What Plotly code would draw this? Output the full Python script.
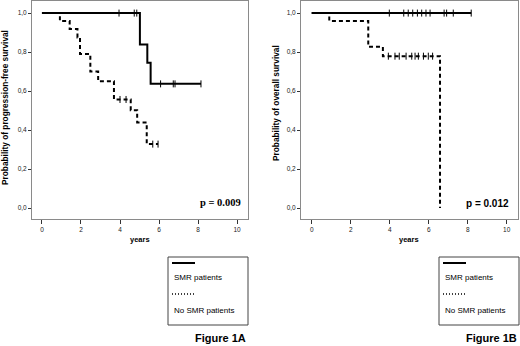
import plotly.graph_objects as go

# ---------------- data ----------------
# Figure 1A : progression-free survival
pfs_smr_times = [0, 5.02, 5.40, 5.57]
pfs_smr_surv = [1.0, 0.839, 0.745, 0.637]
pfs_smr_end = 8.15
pfs_smr_censor = [3.95, 4.73, 4.86, 6.08, 6.73, 6.82, 8.15]

pfs_no_times = [0, 0.92, 1.42, 1.82, 1.95, 2.48, 2.88, 3.69, 4.55, 4.88, 5.37]
pfs_no_surv = [1.0, 0.96, 0.918, 0.875, 0.79, 0.70, 0.651, 0.557, 0.502, 0.439, 0.328]
pfs_no_end = 5.95
pfs_no_censor = [4.0, 4.31, 5.68, 5.95]

# Figure 1B : overall survival
os_smr_times = [0]
os_smr_surv = [1.0]
os_smr_end = 8.18
os_smr_censor = [3.98, 4.72, 4.95, 5.18, 5.42, 5.64, 5.86, 6.07, 6.79, 6.92, 7.26, 8.18]

os_no_times = [0, 0.90, 2.90, 3.65, 6.58]
os_no_surv = [1.0, 0.96, 0.827, 0.779, 0.0]
os_no_end = 6.58
os_no_censor = [3.93, 4.27, 4.49, 4.84, 5.13, 5.30, 5.47, 5.73, 5.98, 6.20]

x_ticks = [0, 2, 4, 6, 8, 10]
x_ticklabels = ["0", "2", "4", "6", "8", "10"]
y_ticks = [0.0, 0.2, 0.4, 0.6, 0.8, 1.0]
y_ticklabels = ["0,0", "0,2", "0,4", "0,6", "0,8", "1,0"]

p_values = ["p = 0.009", "p = 0.012"]
y_titles = ["Probability of progression-free survival", "Probability of overall survival"]
legend_labels = ["SMR patients", "No SMR patients"]
figure_labels = ["Figure 1A", "Figure 1B"]

W, H = 520, 346
SANS = "Liberation Sans, Arial, sans-serif"
SERIF = "Liberation Serif, Times New Roman, serif"


def surv_at(times, surv, t):
    val = surv[0]
    for ti, si in zip(times, surv):
        if t >= ti:
            val = si
    return val


fig = go.Figure()


def add_curve(times, surv, end, censor, dash, xa, ya):
    xs = list(times) + [end]
    ys = list(surv) + [surv[-1]]
    fig.add_trace(go.Scatter(x=xs, y=ys, mode="lines", line_shape="hv",
                             line=dict(color="black", width=2, dash=dash),
                             xaxis=xa, yaxis=ya, showlegend=False, hoverinfo="skip"))
    cy = [surv_at(times, surv, t) for t in censor]
    fig.add_trace(go.Scatter(x=censor, y=cy, mode="markers",
                             marker=dict(symbol="line-ns-open", size=5, color="black",
                                         line=dict(color="black", width=1)),
                             xaxis=xa, yaxis=ya, showlegend=False, hoverinfo="skip"))


DASH = "4px,3px"
add_curve(pfs_no_times, pfs_no_surv, pfs_no_end, pfs_no_censor, DASH, "x", "y")
add_curve(pfs_smr_times, pfs_smr_surv, pfs_smr_end, pfs_smr_censor, "solid", "x", "y")
add_curve(os_no_times, os_no_surv, os_no_end, os_no_censor, DASH, "x2", "y2")
add_curve(os_smr_times, os_smr_surv, os_smr_end, os_smr_censor, "solid", "x2", "y2")

ydom = [1 - 219 / H, 1 - 1 / H]
xdoms = [[32 / W, 248 / W], [301 / W, 518 / W]]

axis_common = dict(showline=True, mirror=True, linecolor="#8a8a8a", linewidth=1,
                   ticks="outside", tickcolor="#333", tickwidth=1,
                   showgrid=False, zeroline=False,
                   tickfont=dict(family=SANS, size=6.5, color="#222"))

fig.update_layout(
    width=W, height=H, margin=dict(l=0, r=0, t=0, b=0),
    paper_bgcolor="white", plot_bgcolor="white",
    xaxis=dict(domain=xdoms[0], range=[-0.51, 10.56], tickvals=x_ticks, ticktext=x_ticklabels,
               ticklen=4, anchor="y", **axis_common),
    yaxis=dict(domain=ydom, range=[-0.056, 1.062], tickvals=y_ticks, ticktext=y_ticklabels,
               ticklen=3, anchor="x", **axis_common),
    xaxis2=dict(domain=xdoms[1], range=[-0.55, 10.58], tickvals=x_ticks, ticktext=x_ticklabels,
                ticklen=4, anchor="y2", **axis_common),
    yaxis2=dict(domain=ydom, range=[-0.056, 1.062], tickvals=y_ticks, ticktext=y_ticklabels,
                ticklen=3, anchor="x2", **axis_common),
)

annotations = []
shapes = []


def px(x):
    return x / W


def py(y):
    return 1 - y / H


# y-axis titles
for xc, yc, txt in [(5, 108, y_titles[0]), (276, 103, y_titles[1])]:
    annotations.append(dict(x=px(xc), y=py(yc), xref="paper", yref="paper", text="<b>%s</b>" % txt,
                            textangle=-90, showarrow=False, xanchor="center", yanchor="middle",
                            font=dict(family=SANS, size=8.3, color="black")))
# x-axis titles
for xc in [140, 409]:
    annotations.append(dict(x=px(xc), y=py(239), xref="paper", yref="paper", text="<b>years</b>",
                            showarrow=False, xanchor="center", yanchor="middle",
                            font=dict(family=SANS, size=7.5, color="black")))
# p-values
annotations.append(dict(x=px(220), y=py(202), xref="paper", yref="paper", text="<b>%s</b>" % p_values[0],
                        showarrow=False, xanchor="center", yanchor="middle",
                        font=dict(family=SERIF, size=10.5, color="black")))
annotations.append(dict(x=px(487), y=py(203), xref="paper", yref="paper", text="<b>%s</b>" % p_values[1],
                        showarrow=False, xanchor="center", yanchor="middle",
                        font=dict(family=SANS, size=10, color="black")))

# legend boxes
for x0 in [168, 439]:
    shapes.append(dict(type="rect", xref="paper", yref="paper", x0=px(x0), x1=px(x0 + 80),
                       y0=py(325), y1=py(257), line=dict(color="#444", width=1)))
    shapes.append(dict(type="line", xref="paper", yref="paper", x0=px(x0 + 4), x1=px(x0 + 27),
                       y0=py(263), y1=py(263), line=dict(color="black", width=2)))
    shapes.append(dict(type="line", xref="paper", yref="paper", x0=px(x0 + 4), x1=px(x0 + 27),
                       y0=py(294), y1=py(294), line=dict(color="black", width=1.3, dash="1px,2px")))
    annotations.append(dict(x=px(x0 + 4), y=py(277), xref="paper", yref="paper", text=legend_labels[0],
                            showarrow=False, xanchor="left", yanchor="middle",
                            font=dict(family=SANS, size=8, color="black")))
    annotations.append(dict(x=px(x0 + 4), y=py(310), xref="paper", yref="paper", text=legend_labels[1],
                            showarrow=False, xanchor="left", yanchor="middle",
                            font=dict(family=SANS, size=8, color="black")))

# figure labels
for xr, lbl in [(248, figure_labels[0]), (519, figure_labels[1])]:
    annotations.append(dict(x=px(xr), y=py(338), xref="paper", yref="paper", text="<b>%s</b>" % lbl,
                            showarrow=False, xanchor="right", yanchor="middle",
                            font=dict(family=SANS, size=11, color="black")))

fig.update_layout(annotations=annotations, shapes=shapes)
fig.write_html("out.html", config={"displayModeBar": False},
               post_script="document.body.style.margin='0px';document.body.style.padding='0px';")
